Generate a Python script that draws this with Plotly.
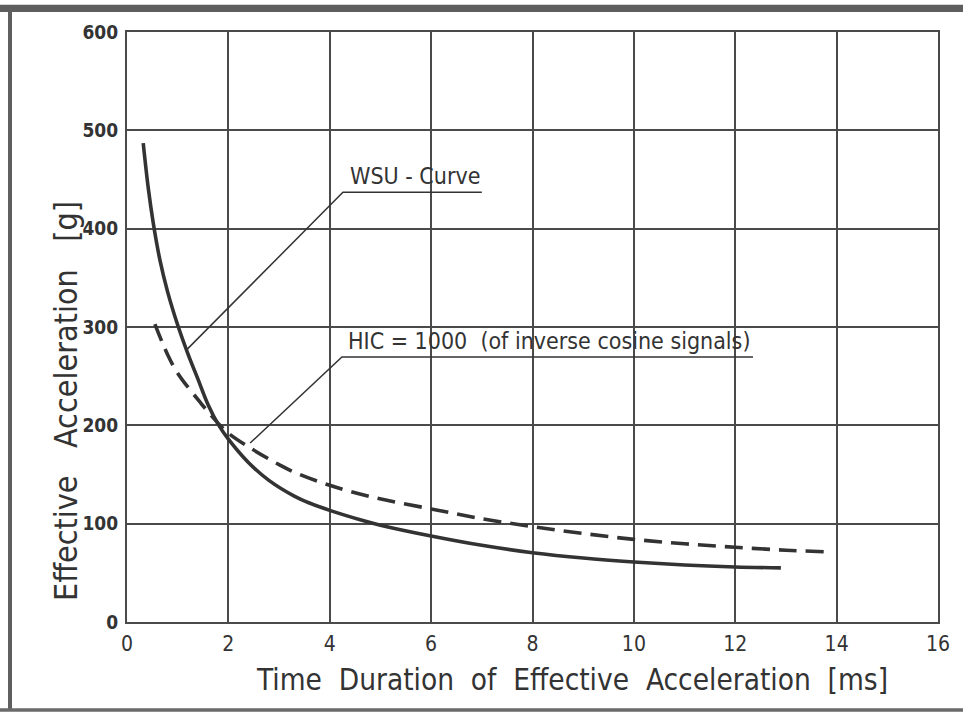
import plotly.graph_objects as go

# WSU curve (solid)
wsu_x = [0.32, 0.42, 0.52, 0.65, 0.8, 1.0, 1.2, 1.4, 1.6, 1.8, 2.0, 2.4, 2.8, 3.3, 3.6, 4.0, 4.6, 5.0, 6.0, 7.0, 8.0, 9.0, 10.0, 11.0, 12.0, 12.9]
wsu_y = [487, 441, 405, 368, 336, 302, 273, 247, 221, 201, 186, 162, 144, 128, 121, 113.5, 104, 98.5, 87.5, 78, 70.5, 65, 61, 58, 56, 55]

# HIC = 1000 curve (dashed)
hic_x = [0.55, 0.8, 1.0, 1.45, 1.8, 2.0, 2.43, 3.0, 3.27, 4.0, 4.93, 6.0, 7.0, 8.0, 9.0, 10.0, 11.0, 12.0, 13.0, 13.75]
hic_y = [303, 272, 253, 223, 202, 192, 177, 160, 153, 139, 126, 115, 105, 97, 90, 84, 79.5, 76, 73, 71.5]

x_ticks = [0, 2, 4, 6, 8, 10, 12, 14, 16]
y_ticks = [0, 100, 200, 300, 400, 500, 600]

# annotation label anchors (data units)
wsu_label = dict(text="WSU - Curve", x=4.36, y=454)
wsu_leader_x = [1.18, 4.26, 7.0]
wsu_leader_y = [277, 437, 437]
hic_label = dict(text="HIC = 1000  (of inverse cosine signals)", x=4.32, y=286)
hic_leader_x = [2.43, 4.24, 12.35]
hic_leader_y = [182, 269.5, 269.5]

INK = "#333333"
FONT = "DejaVu Sans Condensed"

fig = go.Figure()
fig.add_trace(go.Scatter(x=wsu_leader_x, y=wsu_leader_y, mode="lines",
                         line=dict(color=INK, width=1.5), showlegend=False, hoverinfo="skip"))
fig.add_trace(go.Scatter(x=hic_leader_x, y=hic_leader_y, mode="lines",
                         line=dict(color=INK, width=1.5), showlegend=False, hoverinfo="skip"))
fig.add_trace(go.Scatter(x=wsu_x, y=wsu_y, mode="lines",
                         line=dict(color=INK, width=3.6, shape="spline", smoothing=1.0),
                         showlegend=False))
fig.add_trace(go.Scatter(x=hic_x, y=hic_y, mode="lines",
                         line=dict(color=INK, width=3.6, dash="18px,9px", shape="spline", smoothing=1.0),
                         showlegend=False))

for lab in (wsu_label, hic_label):
    fig.add_annotation(x=lab["x"], y=lab["y"], text=lab["text"], showarrow=False,
                       xanchor="left", yanchor="middle",
                       font=dict(family=FONT, size=23, color=INK))

# axis titles
fig.add_annotation(x=0.549, y=-0.066, xref="paper", yref="paper",
                   text="Time  Duration  of  Effective  Acceleration  [ms]", showarrow=False,
                   yanchor="top", font=dict(family=FONT, size=29.5, color=INK))
fig.add_annotation(x=-0.102, y=0.375, xref="paper", yref="paper",
                   text="Effective   Acceleration   [g]", showarrow=False, textangle=-90,
                   font=dict(family=FONT, size=32, color=INK))

# scanned page frame
shapes = [
    dict(type="rect", xref="paper", yref="paper", x0=-0.2, x1=1.1, y0=1.034, y1=1.046,
         fillcolor="#5e5e5e", line=dict(width=0), layer="below"),
    dict(type="rect", xref="paper", yref="paper", x0=-0.1467, x1=-0.1418, y0=-0.148, y1=1.04,
         fillcolor="#5e5e5e", line=dict(width=0), layer="below"),
    dict(type="rect", xref="paper", yref="paper", x0=-0.2, x1=1.1, y0=-0.152, y1=-0.146,
         fillcolor="#6a6a6a", line=dict(width=0), layer="below"),
]
fig.update_layout(shapes=shapes)

fig.update_xaxes(range=[0, 16], tickvals=x_ticks, ticktext=[str(v) for v in x_ticks],
                 showgrid=True, gridcolor="#4a4a4a", gridwidth=1.5, zeroline=False,
                 showline=True, linecolor="#4a4a4a", linewidth=2.2, mirror=True,
                 ticks="", tickfont=dict(family=FONT, size=21, color=INK), ticklabelstandoff=2)
fig.update_yaxes(range=[0, 600], tickvals=y_ticks, ticktext=[str(v) for v in y_ticks],
                 showgrid=True, gridcolor="#4a4a4a", gridwidth=1.5, zeroline=False,
                 showline=True, linecolor="#4a4a4a", linewidth=2.2, mirror=True,
                 ticks="", tickfont=dict(family=FONT, size=19, color=INK, weight="bold"),
                 ticklabelstandoff=3)

fig.update_layout(width=963, height=713, margin=dict(l=127, r=25, t=32, b=91),
                  paper_bgcolor="white", plot_bgcolor="white", showlegend=False)

fig.write_html("out.html")
